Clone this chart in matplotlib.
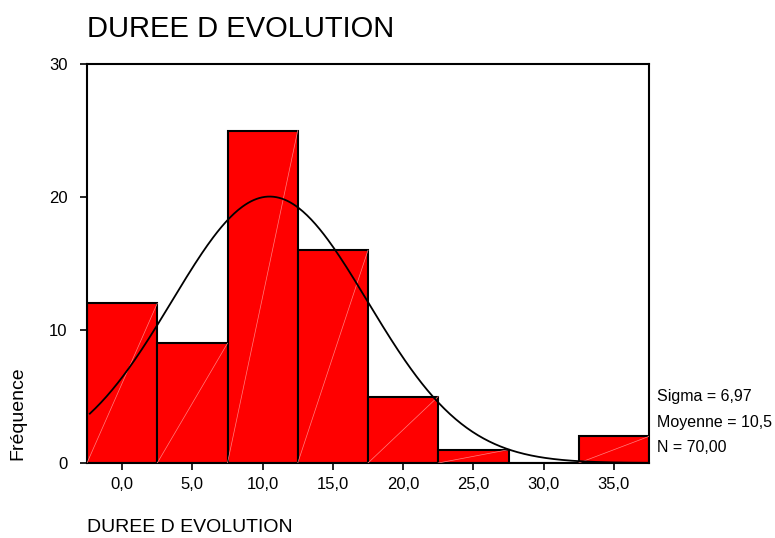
import numpy as np
import matplotlib.pyplot as plt

# ========== Data ==========
bin_centers = [0, 5, 10, 15, 20, 25, 30, 35]
counts = [12, 9, 25, 16, 5, 1, 0, 2]
tick_labels = ["0,0", "5,0", "10,0", "15,0", "20,0", "25,0", "30,0", "35,0"]
mean_val = 10.5
sigma_val = 6.97
n_val = 70
bin_width = 5

plt.rcParams['font.family'] = ['Liberation Sans', 'DejaVu Sans']

fig = plt.figure(figsize=(7.75, 5.38), dpi=100)
ax = fig.add_axes([87 / 775, 1 - 463 / 538, (649 - 87) / 775, (463 - 64) / 538])

# bars
ax.bar(bin_centers, counts, width=bin_width, color='#ff0000', edgecolor='black', linewidth=1.5, zorder=2)

# faint diagonal artifacts inside the bars
for c, h in zip(bin_centers, counts):
    if h > 0:
        ax.plot([c - bin_width / 2, c + bin_width / 2], [0, h], color='#ff8080', lw=0.5, zorder=3)

# normal curve
xs = np.linspace(-2.3, 37.5, 400)
ys = n_val * bin_width / (sigma_val * np.sqrt(2 * np.pi)) * np.exp(-0.5 * ((xs - mean_val) / sigma_val) ** 2)
ax.plot(xs, ys, color='black', lw=1.3, zorder=4)

ax.set_xlim(-2.5, 37.5)
ax.set_ylim(0, 30)
ax.set_xticks(bin_centers)
ax.set_xticklabels(tick_labels)
ax.set_yticks([0, 10, 20, 30])
ax.tick_params(axis='both', direction='out', length=5, width=1.2, labelsize=12)
ax.tick_params(axis='y', pad=9)
ax.tick_params(axis='x', pad=5)
for s in ax.spines.values():
    s.set_linewidth(1.5)

fig.text(87 / 775, 1 - 29 / 538, "DUREE D EVOLUTION", fontsize=21, va='center', ha='left')
fig.text(87 / 775, 1 - 527 / 538, "DUREE D EVOLUTION", fontsize=14, va='center', ha='left')
fig.text(18 / 775, 1 - 413 / 538, "Fréquence", fontsize=14, rotation=90, va='center', ha='center')

stats = [f"Sigma = {sigma_val:.2f}".replace('.', ','),
         f"Moyenne = {mean_val:.1f}".replace('.', ','),
         f"N = {n_val:.2f}".replace('.', ',')]
for i, s in enumerate(stats):
    fig.text(657 / 775, 1 - (397 + 25.5 * i) / 538, s, fontsize=11.5, va='center', ha='left')

fig.savefig("out.png", dpi=100)
